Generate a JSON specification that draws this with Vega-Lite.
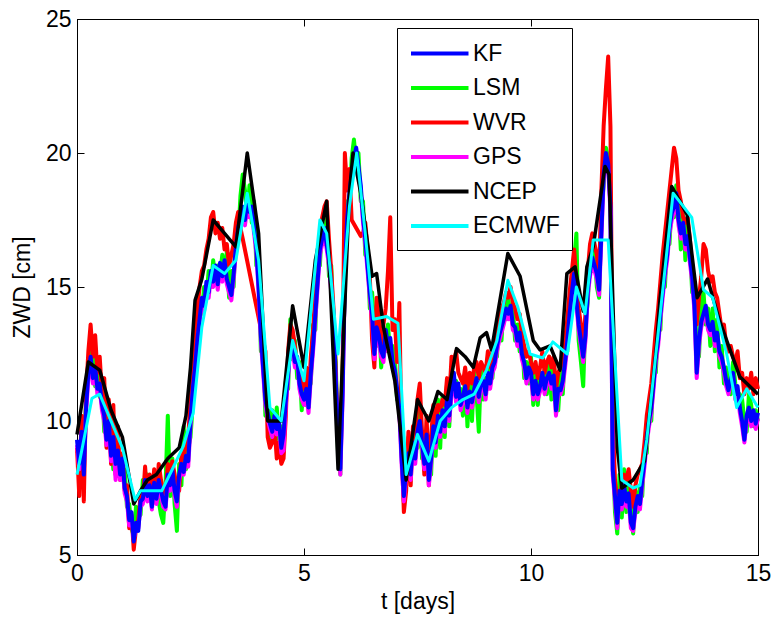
{
"$schema":"https://vega.github.io/schema/vega-lite/v6.json",
"width":681,"height":536,
"autosize":{"type":"none"},
"padding":{"left":77,"top":19,"right":15,"bottom":62},
"config":{
 "view":{"stroke":"black","strokeWidth":1},
 "font":"Liberation Sans",
 "axis":{"grid":false,"domainColor":"black","domainWidth":1,"tickColor":"black","tickWidth":1,"tickSize":-7,"labelFont":"Liberation Sans","labelFontSize":23,"labelColor":"black","labelFlush":false,"labelOverlap":false,"titleFont":"Liberation Sans","titleFontSize":23,"titleFontWeight":"normal","titleColor":"black"},
 "axisX":{"labelPadding":14,"titlePadding":5},
 "axisY":{"labelPadding":13,"titlePadding":11}
},
"datasets":{
"hf":[
{"t":0,"KF":9.3,"LSM":8.8,"WVR":9.0,"GPS":9.1},
{"t":0.05,"KF":8.4,"LSM":9.0,"WVR":7.2,"GPS":8.2},
{"t":0.1,"KF":9.6,"LSM":9.2,"WVR":10.2,"GPS":9.4},
{"t":0.15,"KF":8.0,"LSM":8.6,"WVR":7.0,"GPS":8.2},
{"t":0.2,"KF":10.5,"LSM":10.8,"WVR":11.0,"GPS":10.3},
{"t":0.25,"KF":11.8,"LSM":12.2,"WVR":12.6,"GPS":11.6},
{"t":0.3,"KF":12.4,"LSM":12.8,"WVR":13.6,"GPS":12.2},
{"t":0.35,"KF":11.6,"LSM":12.9,"WVR":12.4,"GPS":11.4},
{"t":0.4,"KF":12.0,"LSM":11.3,"WVR":13.2,"GPS":11.8},
{"t":0.45,"KF":11.2,"LSM":12.0,"WVR":11.8,"GPS":11.0},
{"t":0.5,"KF":11.4,"LSM":10.9,"WVR":12.4,"GPS":11.2},
{"t":0.55,"KF":10.6,"LSM":11.5,"WVR":11.0,"GPS":10.4},
{"t":0.6,"KF":10.2,"LSM":9.6,"WVR":11.6,"GPS":10.0},
{"t":0.65,"KF":9.3,"LSM":10.2,"WVR":9.0,"GPS":9.1},
{"t":0.7,"KF":10.0,"LSM":9.5,"WVR":10.8,"GPS":9.8},
{"t":0.75,"KF":8.7,"LSM":9.4,"WVR":8.4,"GPS":8.5},
{"t":0.8,"KF":9.4,"LSM":8.2,"WVR":10.6,"GPS":9.2},
{"t":0.85,"KF":8.4,"LSM":9.1,"WVR":8.0,"GPS":7.8},
{"t":0.9,"KF":8.9,"LSM":8.5,"WVR":9.8,"GPS":8.7},
{"t":0.95,"KF":8.0,"LSM":8.7,"WVR":7.8,"GPS":7.8},
{"t":1,"KF":8.6,"LSM":8.0,"WVR":8.8,"GPS":8.4},
{"t":1.05,"KF":7.5,"LSM":8.2,"WVR":7.4,"GPS":7.3},
{"t":1.1,"KF":7.2,"LSM":6.8,"WVR":7.6,"GPS":7.0},
{"t":1.15,"KF":6.3,"LSM":6.9,"WVR":6.0,"GPS":6.1},
{"t":1.2,"KF":6.6,"LSM":6.0,"WVR":6.5,"GPS":6.4},
{"t":1.25,"KF":5.5,"LSM":5.7,"WVR":5.2,"GPS":5.6},
{"t":1.3,"KF":6.2,"LSM":6.8,"WVR":6.0,"GPS":6.0},
{"t":1.35,"KF":5.9,"LSM":6.4,"WVR":6.3,"GPS":6.0},
{"t":1.4,"KF":7.0,"LSM":6.5,"WVR":7.2,"GPS":6.8},
{"t":1.45,"KF":7.1,"LSM":7.8,"WVR":7.0,"GPS":6.9},
{"t":1.5,"KF":7.8,"LSM":7.2,"WVR":8.3,"GPS":7.6},
{"t":1.55,"KF":7.2,"LSM":8.0,"WVR":7.1,"GPS":7.0},
{"t":1.6,"KF":7.6,"LSM":7.1,"WVR":8.0,"GPS":7.4},
{"t":1.65,"KF":6.8,"LSM":7.4,"WVR":7.2,"GPS":6.7},
{"t":1.7,"KF":7.7,"LSM":7.3,"WVR":8.2,"GPS":7.5},
{"t":1.75,"KF":7.1,"LSM":7.9,"WVR":7.0,"GPS":6.9},
{"t":1.8,"KF":7.8,"LSM":7.0,"WVR":8.4,"GPS":7.6},
{"t":1.85,"KF":7.4,"LSM":6.5,"WVR":7.8,"GPS":7.2},
{"t":1.9,"KF":7.0,"LSM":6.2,"WVR":7.4,"GPS":6.8},
{"t":1.95,"KF":6.8,"LSM":7.6,"WVR":7.2,"GPS":6.7},
{"t":2,"KF":8.0,"LSM":10.2,"WVR":8.4,"GPS":7.8},
{"t":2.05,"KF":7.6,"LSM":7.2,"WVR":8.0,"GPS":7.4},
{"t":2.1,"KF":8.2,"LSM":8.6,"WVR":8.5,"GPS":8.0},
{"t":2.15,"KF":7.4,"LSM":6.9,"WVR":8.0,"GPS":7.2},
{"t":2.2,"KF":7.0,"LSM":5.9,"WVR":7.5,"GPS":6.8},
{"t":2.25,"KF":8.0,"LSM":8.4,"WVR":7.4,"GPS":7.8},
{"t":2.3,"KF":8.4,"LSM":7.6,"WVR":8.8,"GPS":8.2},
{"t":2.35,"KF":8.1,"LSM":9.8,"WVR":8.6,"GPS":8.0},
{"t":2.4,"KF":8.7,"LSM":8.2,"WVR":9.2,"GPS":8.5},
{"t":2.45,"KF":8.5,"LSM":9.0,"WVR":9.4,"GPS":8.3},
{"t":2.5,"KF":10.0,"LSM":9.4,"WVR":10.8,"GPS":9.8},
{"t":2.55,"KF":11.2,"LSM":10.6,"WVR":12.4,"GPS":11.0},
{"t":2.6,"KF":12.0,"LSM":12.6,"WVR":13.4,"GPS":11.8},
{"t":2.65,"KF":13.0,"LSM":12.4,"WVR":14.2,"GPS":12.8},
{"t":2.7,"KF":13.8,"LSM":14.4,"WVR":15.0,"GPS":13.6},
{"t":2.75,"KF":14.6,"LSM":14.0,"WVR":15.6,"GPS":14.4},
{"t":2.8,"KF":14.3,"LSM":15.0,"WVR":15.8,"GPS":14.1},
{"t":2.85,"KF":15.2,"LSM":14.6,"WVR":16.4,"GPS":15.0},
{"t":2.9,"KF":14.8,"LSM":15.6,"WVR":16.8,"GPS":14.6},
{"t":2.95,"KF":15.6,"LSM":15.0,"WVR":17.6,"GPS":15.4},
{"t":3,"KF":15.2,"LSM":16.0,"WVR":17.8,"GPS":15.0},
{"t":3.05,"KF":15.8,"LSM":15.3,"WVR":17.0,"GPS":15.6},
{"t":3.1,"KF":15.1,"LSM":15.8,"WVR":17.4,"GPS":14.9},
{"t":3.15,"KF":15.9,"LSM":15.4,"WVR":16.8,"GPS":15.7},
{"t":3.2,"KF":15.4,"LSM":16.2,"WVR":17.2,"GPS":15.2},
{"t":3.25,"KF":16.0,"LSM":15.5,"WVR":16.4,"GPS":15.8},
{"t":3.3,"KF":15.3,"LSM":16.3,"WVR":16.6,"GPS":15.1},
{"t":3.35,"KF":15.0,"LSM":14.6,"WVR":15.8,"GPS":14.8},
{"t":3.4,"KF":14.7,"LSM":15.6,"WVR":16.2,"GPS":14.5},
{"t":3.45,"KF":15.5,"LSM":15.0,"WVR":16.6,"GPS":15.3},
{"t":3.5,"KF":16.5,"LSM":17.2,"WVR":17.4,"GPS":16.3},
{"t":3.55,"KF":17.2,"LSM":16.8,"WVR":17.8,"GPS":17.0},
{"t":3.6,"KF":17.6,"LSM":18.4,"WVR":17.2,"GPS":17.4},
{"t":3.65,"KF":18.0,"LSM":19.2,"WVR":16.8,"GPS":17.8},
{"t":3.7,"KF":17.5,"LSM":18.6,"GPS":17.3},
{"t":3.75,"KF":18.2,"LSM":17.6,"GPS":18.0},
{"t":3.8,"KF":17.8,"LSM":18.8,"GPS":17.6},
{"t":3.85,"KF":18.0,"LSM":17.4,"GPS":17.8},
{"t":3.9,"KF":17.2,"LSM":18.2,"GPS":17.0},
{"t":3.95,"KF":16.5,"LSM":15.8,"GPS":16.3},
{"t":4,"KF":15.0,"LSM":16.2,"GPS":14.8},
{"t":4.05,"KF":13.2,"LSM":12.6,"GPS":13.0},
{"t":4.1,"KF":12.0,"LSM":12.8,"GPS":11.8},
{"t":4.15,"KF":10.8,"LSM":10.2,"WVR":12.6,"GPS":10.6},
{"t":4.2,"KF":10.3,"LSM":10.9,"WVR":9.4,"GPS":10.1},
{"t":4.25,"KF":9.9,"LSM":9.2,"WVR":9.0,"GPS":9.7},
{"t":4.3,"KF":9.6,"LSM":10.4,"WVR":9.2,"GPS":9.4},
{"t":4.35,"KF":10.2,"LSM":9.6,"WVR":9.8,"GPS":10.0},
{"t":4.4,"KF":9.7,"LSM":10.5,"WVR":8.6,"GPS":9.5},
{"t":4.45,"KF":10.0,"LSM":9.3,"WVR":9.2,"GPS":9.8},
{"t":4.5,"KF":9.0,"LSM":9.8,"WVR":8.4,"GPS":8.8},
{"t":4.55,"KF":9.5,"LSM":9.0,"WVR":8.6,"GPS":8.9},
{"t":4.6,"KF":10.8,"LSM":11.5,"WVR":10.2,"GPS":10.6},
{"t":4.65,"KF":11.8,"LSM":11.2,"WVR":12.6,"GPS":11.6},
{"t":4.7,"KF":13.0,"LSM":13.8,"WVR":13.6,"GPS":12.8},
{"t":4.75,"KF":12.8,"LSM":12.3,"WVR":13.4,"GPS":12.6},
{"t":4.8,"KF":12.2,"LSM":13.0,"WVR":12.8,"GPS":12.0},
{"t":4.85,"KF":12.4,"LSM":11.6,"WVR":12.0,"GPS":12.2},
{"t":4.9,"KF":11.4,"LSM":12.2,"WVR":11.8,"GPS":11.2},
{"t":4.95,"KF":11.0,"LSM":10.4,"WVR":11.6,"GPS":10.8},
{"t":5,"KF":10.8,"LSM":11.6,"WVR":11.2,"GPS":10.6},
{"t":5.05,"KF":11.2,"LSM":10.6,"WVR":12.0,"GPS":11.0},
{"t":5.1,"KF":10.5,"LSM":11.2,"WVR":10.8,"GPS":10.3},
{"t":5.15,"KF":11.8,"LSM":11.4,"WVR":12.4,"GPS":11.6},
{"t":5.2,"KF":12.8,"LSM":13.6,"WVR":13.4,"GPS":12.6},
{"t":5.25,"KF":14.0,"LSM":13.4,"WVR":14.8,"GPS":13.8},
{"t":5.3,"KF":15.2,"LSM":16.0,"WVR":15.8,"GPS":15.0},
{"t":5.35,"KF":16.4,"LSM":15.8,"WVR":17.0,"GPS":16.2},
{"t":5.4,"KF":16.8,"LSM":17.4,"WVR":17.6,"GPS":16.6},
{"t":5.45,"KF":17.2,"LSM":16.6,"WVR":18.0,"GPS":17.0},
{"t":5.5,"KF":16.6,"LSM":17.6,"WVR":18.2,"GPS":16.4},
{"t":5.55,"KF":16.0,"LSM":15.4,"WVR":16.8,"GPS":15.8},
{"t":5.6,"KF":15.0,"LSM":15.8,"WVR":15.6,"GPS":14.8},
{"t":5.65,"KF":14.0,"LSM":13.2,"WVR":14.2,"GPS":13.8},
{"t":5.7,"KF":11.5,"LSM":12.2,"WVR":11.8,"GPS":11.3},
{"t":5.75,"KF":9.5,"LSM":8.8,"WVR":9.4,"GPS":9.3},
{"t":5.8,"KF":8.2,"LSM":8.0,"WVR":8.6,"GPS":8.0},
{"t":5.85,"KF":11.0,"LSM":12.0,"WVR":11.8,"GPS":10.8},
{"t":5.9,"KF":15.5,"LSM":15.0,"WVR":20.0,"GPS":15.3},
{"t":5.95,"KF":17.5,"LSM":18.2,"WVR":18.6,"GPS":17.3},
{"t":6,"KF":18.5,"LSM":18.0,"WVR":19.4,"GPS":18.3},
{"t":6.05,"KF":19.2,"LSM":19.8,"WVR":17.5,"GPS":19.0},
{"t":6.1,"KF":19.8,"LSM":20.5,"GPS":19.6},
{"t":6.15,"KF":20.2,"LSM":19.6,"GPS":20.0},
{"t":6.2,"KF":19.5,"LSM":20.0,"GPS":19.3},
{"t":6.25,"KF":18.8,"LSM":18.2,"WVR":16.9,"GPS":18.6},
{"t":6.3,"KF":17.6,"LSM":18.2,"WVR":17.0,"GPS":17.4},
{"t":6.35,"KF":16.8,"LSM":16.2,"WVR":17.4,"GPS":16.6},
{"t":6.4,"KF":15.8,"LSM":16.4,"WVR":16.4,"GPS":15.6},
{"t":6.45,"KF":14.8,"LSM":14.2,"WVR":15.4,"GPS":14.6},
{"t":6.5,"KF":14.0,"LSM":14.8,"WVR":13.0,"GPS":13.8},
{"t":6.55,"KF":12.5,"LSM":13.4,"WVR":12.0,"GPS":12.3},
{"t":6.6,"KF":13.5,"LSM":12.8,"WVR":14.6,"GPS":13.3},
{"t":6.65,"KF":13.2,"LSM":13.9,"WVR":13.8,"GPS":13.0},
{"t":6.7,"KF":12.6,"LSM":12.0,"WVR":12.4,"GPS":12.4},
{"t":6.75,"KF":12.4,"LSM":13.0,"WVR":13.6,"GPS":12.2},
{"t":6.8,"KF":13.4,"LSM":12.6,"WVR":14.2,"GPS":13.2},
{"t":6.85,"KF":12.8,"LSM":13.6,"WVR":15.6,"GPS":12.6},
{"t":6.9,"KF":13.1,"LSM":12.4,"WVR":17.6,"GPS":12.9},
{"t":6.95,"KF":12.2,"LSM":12.8,"WVR":13.4,"GPS":12.0},
{"t":7,"KF":11.9,"LSM":12.4,"WVR":13.8,"GPS":11.7},
{"t":7.05,"KF":11.2,"LSM":10.8,"WVR":12.2,"GPS":11.0},
{"t":7.1,"KF":10.5,"LSM":11.2,"WVR":14.4,"GPS":10.3},
{"t":7.15,"KF":8.6,"LSM":9.4,"WVR":9.0,"GPS":8.4},
{"t":7.2,"KF":7.2,"LSM":7.0,"WVR":6.6,"GPS":7.0},
{"t":7.25,"KF":8.2,"LSM":7.6,"WVR":7.4,"GPS":8.0},
{"t":7.3,"KF":8.8,"LSM":9.4,"WVR":9.6,"GPS":8.6},
{"t":7.35,"KF":8.0,"LSM":8.5,"WVR":7.6,"GPS":7.8},
{"t":7.4,"KF":9.2,"LSM":8.6,"WVR":9.8,"GPS":9.0},
{"t":7.45,"KF":8.6,"LSM":9.4,"WVR":9.2,"GPS":8.4},
{"t":7.5,"KF":9.6,"LSM":9.0,"WVR":10.8,"GPS":9.4},
{"t":7.55,"KF":10.0,"LSM":10.6,"WVR":11.4,"GPS":9.8},
{"t":7.6,"KF":9.2,"LSM":8.6,"WVR":9.6,"GPS":9.0},
{"t":7.65,"KF":8.4,"LSM":9.2,"WVR":8.0,"GPS":8.2},
{"t":7.7,"KF":9.5,"LSM":8.8,"WVR":10.2,"GPS":9.3},
{"t":7.75,"KF":7.8,"LSM":8.4,"WVR":7.6,"GPS":7.6},
{"t":7.8,"KF":8.6,"LSM":8.0,"WVR":9.4,"GPS":8.4},
{"t":7.85,"KF":9.8,"LSM":10.4,"WVR":10.6,"GPS":9.6},
{"t":7.9,"KF":9.2,"LSM":8.7,"WVR":9.8,"GPS":9.0},
{"t":7.95,"KF":10.2,"LSM":10.8,"WVR":10.6,"GPS":10.0},
{"t":8,"KF":9.6,"LSM":9.0,"WVR":10.4,"GPS":9.4},
{"t":8.05,"KF":10.4,"LSM":10.9,"WVR":10.8,"GPS":10.2},
{"t":8.1,"KF":9.8,"LSM":9.4,"WVR":10.6,"GPS":9.6},
{"t":8.15,"KF":10.8,"LSM":11.4,"WVR":11.6,"GPS":10.6},
{"t":8.2,"KF":10.2,"LSM":9.8,"WVR":10.8,"GPS":10.0},
{"t":8.25,"KF":11.2,"LSM":11.6,"WVR":12.4,"GPS":11.0},
{"t":8.3,"KF":11.8,"LSM":11.2,"WVR":12.2,"GPS":11.6},
{"t":8.35,"KF":10.9,"LSM":11.5,"WVR":12.6,"GPS":10.7},
{"t":8.4,"KF":11.4,"LSM":10.8,"WVR":11.8,"GPS":11.2},
{"t":8.45,"KF":10.6,"LSM":11.2,"WVR":11.6,"GPS":10.4},
{"t":8.5,"KF":10.9,"LSM":10.2,"WVR":11.4,"GPS":10.7},
{"t":8.55,"KF":11.3,"LSM":11.8,"WVR":12.0,"GPS":11.1},
{"t":8.6,"KF":10.5,"LSM":9.8,"WVR":11.2,"GPS":10.3},
{"t":8.65,"KF":11.1,"LSM":11.6,"WVR":11.8,"GPS":10.9},
{"t":8.7,"KF":10.7,"LSM":10.0,"WVR":11.4,"GPS":10.5},
{"t":8.75,"KF":11.2,"LSM":11.8,"WVR":12.0,"GPS":11.0},
{"t":8.8,"KF":11.6,"LSM":11.0,"WVR":12.2,"GPS":11.4},
{"t":8.85,"KF":10.9,"LSM":9.6,"WVR":11.6,"GPS":10.7},
{"t":8.9,"KF":11.5,"LSM":12.0,"WVR":12.2,"GPS":11.3},
{"t":8.95,"KF":11.5,"LSM":10.8,"WVR":12.0,"GPS":11.3},
{"t":9,"KF":11.0,"LSM":11.6,"WVR":11.8,"GPS":10.8},
{"t":9.05,"KF":11.8,"LSM":11.2,"WVR":12.6,"GPS":11.6},
{"t":9.1,"KF":11.4,"LSM":12.0,"WVR":12.0,"GPS":11.2},
{"t":9.15,"KF":12.0,"LSM":11.6,"WVR":12.6,"GPS":11.8},
{"t":9.2,"KF":12.2,"LSM":12.8,"WVR":12.8,"GPS":12.0},
{"t":9.25,"KF":12.8,"LSM":12.4,"WVR":13.6,"GPS":12.6},
{"t":9.3,"KF":13.2,"LSM":13.8,"WVR":13.8,"GPS":13.0},
{"t":9.35,"KF":13.5,"LSM":13.0,"WVR":14.2,"GPS":13.3},
{"t":9.4,"KF":13.8,"LSM":14.4,"WVR":14.4,"GPS":13.6},
{"t":9.45,"KF":14.2,"LSM":13.8,"WVR":14.8,"GPS":14.0},
{"t":9.5,"KF":14.0,"LSM":14.6,"WVR":14.6,"GPS":13.8},
{"t":9.55,"KF":14.3,"LSM":13.8,"WVR":15.0,"GPS":14.1},
{"t":9.6,"KF":13.6,"LSM":14.2,"WVR":14.4,"GPS":13.4},
{"t":9.65,"KF":13.5,"LSM":13.0,"WVR":14.2,"GPS":13.3},
{"t":9.7,"KF":13.0,"LSM":13.6,"WVR":13.8,"GPS":12.8},
{"t":9.75,"KF":13.3,"LSM":12.6,"WVR":14.0,"GPS":13.1},
{"t":9.8,"KF":12.5,"LSM":13.4,"WVR":13.2,"GPS":12.3},
{"t":9.85,"KF":12.2,"LSM":11.6,"WVR":12.8,"GPS":12.0},
{"t":9.9,"KF":11.6,"LSM":12.2,"WVR":12.4,"GPS":11.4},
{"t":9.95,"KF":12.0,"LSM":11.4,"WVR":12.6,"GPS":11.8},
{"t":10,"KF":11.8,"LSM":12.4,"WVR":12.2,"GPS":11.6},
{"t":10.05,"KF":11.0,"LSM":10.6,"WVR":11.8,"GPS":10.8},
{"t":10.1,"KF":11.5,"LSM":12.0,"WVR":12.2,"GPS":11.3},
{"t":10.15,"KF":11.0,"LSM":10.6,"WVR":11.6,"GPS":10.8},
{"t":10.2,"KF":11.3,"LSM":11.8,"WVR":12.0,"GPS":11.1},
{"t":10.25,"KF":11.8,"LSM":11.2,"WVR":12.6,"GPS":11.6},
{"t":10.3,"KF":11.2,"LSM":11.9,"WVR":11.8,"GPS":11.0},
{"t":10.35,"KF":11.6,"LSM":11.0,"WVR":12.2,"GPS":11.4},
{"t":10.4,"KF":11.8,"LSM":12.4,"WVR":12.4,"GPS":11.6},
{"t":10.45,"KF":11.4,"LSM":10.8,"WVR":12.0,"GPS":11.2},
{"t":10.5,"KF":11.7,"LSM":12.2,"WVR":12.4,"GPS":11.5},
{"t":10.55,"KF":10.4,"LSM":11.0,"WVR":11.2,"GPS":10.2},
{"t":10.6,"KF":11.2,"LSM":10.4,"WVR":11.8,"GPS":11.0},
{"t":10.65,"KF":11.15,"LSM":11.8,"WVR":12.0,"GPS":11.0},
{"t":10.7,"KF":11.5,"LSM":11.0,"WVR":12.2,"GPS":11.3},
{"t":10.75,"KF":12.2,"LSM":12.8,"WVR":13.0,"GPS":12.0},
{"t":10.8,"KF":13.0,"LSM":12.6,"WVR":13.8,"GPS":12.8},
{"t":10.85,"KF":14.0,"LSM":14.6,"WVR":14.8,"GPS":13.8},
{"t":10.9,"KF":14.8,"LSM":14.2,"WVR":15.6,"GPS":14.6},
{"t":10.95,"KF":15.5,"LSM":16.0,"WVR":16.4,"GPS":15.3},
{"t":11,"KF":14.5,"LSM":17.0,"WVR":15.2,"GPS":14.3},
{"t":11.05,"KF":13.6,"LSM":13.0,"WVR":14.2,"GPS":13.4},
{"t":11.1,"KF":13.0,"LSM":12.2,"WVR":13.6,"GPS":12.8},
{"t":11.15,"KF":12.4,"LSM":11.3,"WVR":12.8,"GPS":12.2},
{"t":11.2,"KF":13.2,"LSM":13.8,"WVR":14.0,"GPS":13.0},
{"t":11.25,"KF":14.9,"LSM":14.4,"WVR":15.6,"GPS":14.7},
{"t":11.3,"KF":15.6,"LSM":16.2,"WVR":16.6,"GPS":15.4},
{"t":11.35,"KF":16.1,"LSM":15.6,"WVR":17.0,"GPS":15.9},
{"t":11.4,"KF":15.8,"LSM":16.4,"WVR":16.6,"GPS":15.6},
{"t":11.45,"KF":15.5,"LSM":15.0,"WVR":16.2,"GPS":15.3},
{"t":11.5,"KF":14.9,"LSM":14.6,"WVR":15.4,"GPS":14.7},
{"t":11.55,"KF":17.0,"LSM":17.8,"WVR":18.6,"GPS":16.8},
{"t":11.6,"KF":19.2,"LSM":18.8,"WVR":21.0,"GPS":19.0},
{"t":11.65,"KF":20.0,"LSM":20.2,"WVR":22.4,"GPS":19.8},
{"t":11.7,"KF":19.6,"LSM":19.8,"WVR":23.6,"GPS":19.4},
{"t":11.75,"KF":18.0,"LSM":18.4,"WVR":21.0,"GPS":17.8},
{"t":11.8,"KF":8.2,"LSM":9.0,"WVR":10.0,"GPS":8.0},
{"t":11.85,"KF":7.2,"LSM":6.6,"WVR":7.8,"GPS":7.0},
{"t":11.9,"KF":6.2,"LSM":5.8,"WVR":7.0,"GPS":6.0},
{"t":11.95,"KF":7.4,"LSM":8.0,"WVR":7.2,"GPS":7.2},
{"t":12,"KF":6.9,"LSM":6.4,"WVR":7.6,"GPS":6.7},
{"t":12.05,"KF":7.6,"LSM":8.2,"WVR":8.0,"GPS":7.4},
{"t":12.1,"KF":7.0,"LSM":6.6,"WVR":7.8,"GPS":6.8},
{"t":12.15,"KF":7.3,"LSM":7.9,"WVR":8.2,"GPS":7.1},
{"t":12.2,"KF":6.2,"LSM":6.6,"WVR":7.4,"GPS":6.0},
{"t":12.25,"KF":6.0,"LSM":5.8,"WVR":6.8,"GPS":5.9},
{"t":12.3,"KF":6.8,"LSM":7.4,"WVR":7.6,"GPS":6.6},
{"t":12.35,"KF":7.2,"LSM":6.6,"WVR":8.0,"GPS":7.0},
{"t":12.4,"KF":6.9,"LSM":7.6,"WVR":8.2,"GPS":6.7},
{"t":12.45,"KF":7.8,"LSM":7.2,"WVR":8.4,"GPS":7.6},
{"t":12.5,"KF":8.5,"LSM":9.0,"WVR":9.2,"GPS":8.3},
{"t":12.55,"KF":9.4,"LSM":8.8,"WVR":10.2,"GPS":9.2},
{"t":12.6,"KF":10.0,"LSM":10.6,"WVR":10.8,"GPS":9.8},
{"t":12.65,"KF":10.5,"LSM":10.0,"WVR":11.4,"GPS":10.3},
{"t":12.7,"KF":11.4,"LSM":12.0,"WVR":12.4,"GPS":11.2},
{"t":12.75,"KF":12.4,"LSM":11.8,"WVR":13.4,"GPS":12.2},
{"t":12.8,"KF":13.0,"LSM":13.6,"WVR":14.2,"GPS":12.8},
{"t":12.85,"KF":14.0,"LSM":13.4,"WVR":15.2,"GPS":13.8},
{"t":12.9,"KF":14.8,"LSM":15.4,"WVR":16.2,"GPS":14.6},
{"t":12.95,"KF":15.6,"LSM":15.0,"WVR":17.0,"GPS":15.4},
{"t":13,"KF":16.2,"LSM":16.8,"WVR":17.8,"GPS":16.0},
{"t":13.05,"KF":17.2,"LSM":16.6,"WVR":18.6,"GPS":17.0},
{"t":13.1,"KF":17.75,"LSM":18.2,"WVR":19.4,"GPS":17.5},
{"t":13.15,"KF":18.0,"LSM":17.6,"WVR":20.2,"GPS":17.8},
{"t":13.2,"KF":18.5,"LSM":18.8,"WVR":19.8,"GPS":18.3},
{"t":13.25,"KF":17.5,"LSM":18.0,"WVR":18.6,"GPS":17.3},
{"t":13.3,"KF":17.0,"LSM":16.4,"WVR":18.2,"GPS":16.8},
{"t":13.35,"KF":17.4,"LSM":17.8,"WVR":17.6,"GPS":17.2},
{"t":13.4,"KF":16.6,"LSM":16.0,"WVR":17.4,"GPS":16.4},
{"t":13.45,"KF":16.9,"LSM":17.4,"WVR":17.6,"GPS":16.7},
{"t":13.5,"KF":16.1,"LSM":16.6,"WVR":16.8,"GPS":15.9},
{"t":13.55,"KF":15.4,"LSM":14.8,"WVR":15.6,"GPS":15.2},
{"t":13.6,"KF":14.3,"LSM":14.8,"WVR":15.0,"GPS":14.1},
{"t":13.65,"KF":11.8,"LSM":12.6,"WVR":13.6,"GPS":11.6},
{"t":13.7,"KF":13.0,"LSM":12.4,"WVR":14.6,"GPS":12.8},
{"t":13.75,"KF":13.7,"LSM":14.4,"WVR":15.4,"GPS":13.5},
{"t":13.8,"KF":14.0,"LSM":14.8,"WVR":16.6,"GPS":13.8},
{"t":13.85,"KF":14.3,"LSM":13.6,"WVR":16.4,"GPS":14.1},
{"t":13.9,"KF":13.6,"LSM":14.2,"WVR":15.6,"GPS":13.4},
{"t":13.95,"KF":13.4,"LSM":12.8,"WVR":15.2,"GPS":13.2},
{"t":14,"KF":13.7,"LSM":14.2,"WVR":15.4,"GPS":13.5},
{"t":14.05,"KF":13.0,"LSM":12.6,"WVR":14.8,"GPS":12.8},
{"t":14.1,"KF":13.3,"LSM":13.8,"WVR":14.6,"GPS":13.1},
{"t":14.15,"KF":12.6,"LSM":12.0,"WVR":14.0,"GPS":12.4},
{"t":14.2,"KF":12.4,"LSM":12.8,"WVR":13.4,"GPS":12.2},
{"t":14.25,"KF":12.0,"LSM":11.4,"WVR":13.6,"GPS":11.8},
{"t":14.3,"KF":11.5,"LSM":12.0,"WVR":12.8,"GPS":11.3},
{"t":14.35,"KF":11.15,"LSM":11.6,"WVR":12.6,"GPS":11.0},
{"t":14.4,"KF":11.6,"LSM":11.0,"WVR":12.8,"GPS":11.4},
{"t":14.45,"KF":11.8,"LSM":12.2,"WVR":12.4,"GPS":11.6},
{"t":14.5,"KF":11.0,"LSM":11.4,"WVR":12.2,"GPS":10.8},
{"t":14.55,"KF":11.3,"LSM":10.8,"WVR":12.6,"GPS":11.1},
{"t":14.6,"KF":10.5,"LSM":11.0,"WVR":11.6,"GPS":10.3},
{"t":14.65,"KF":10.0,"LSM":10.8,"WVR":11.8,"GPS":9.8},
{"t":14.7,"KF":9.3,"LSM":10.0,"WVR":11.0,"GPS":9.2},
{"t":14.75,"KF":10.2,"LSM":9.6,"WVR":11.6,"GPS":10.0},
{"t":14.8,"KF":10.5,"LSM":11.0,"WVR":11.2,"GPS":10.3},
{"t":14.85,"KF":10.0,"LSM":10.6,"WVR":11.8,"GPS":9.8},
{"t":14.9,"KF":10.4,"LSM":9.8,"WVR":11.0,"GPS":10.2},
{"t":14.95,"KF":9.9,"LSM":10.4,"WVR":11.6,"GPS":9.7},
{"t":15,"KF":10.3,"LSM":10.0,"WVR":11.2,"GPS":10.1}
],
"model":[
{"s":"NCEP","t":0,"v":9.5},{"s":"NCEP","t":0.25,"v":12.2},{"s":"NCEP","t":0.5,"v":11.9},{"s":"NCEP","t":0.75,"v":10.4},{"s":"NCEP","t":0.9,"v":9.8},{"s":"NCEP","t":1.0,"v":9.4},{"s":"NCEP","t":1.25,"v":6.9},{"s":"NCEP","t":1.4,"v":7.4},{"s":"NCEP","t":1.55,"v":7.8},{"s":"NCEP","t":1.75,"v":8.0},{"s":"NCEP","t":2.0,"v":8.6},{"s":"NCEP","t":2.25,"v":9.0},{"s":"NCEP","t":2.4,"v":10.2},{"s":"NCEP","t":2.5,"v":12.0},{"s":"NCEP","t":2.6,"v":14.5},{"s":"NCEP","t":2.75,"v":15.3},{"s":"NCEP","t":3.0,"v":17.5},{"s":"NCEP","t":3.25,"v":17.0},{"s":"NCEP","t":3.5,"v":16.5},{"s":"NCEP","t":3.75,"v":20.0},{"s":"NCEP","t":4.0,"v":17.0},{"s":"NCEP","t":4.2,"v":10.0},{"s":"NCEP","t":4.5,"v":10.0},{"s":"NCEP","t":4.75,"v":14.3},{"s":"NCEP","t":5.0,"v":12.0},{"s":"NCEP","t":5.25,"v":16.0},{"s":"NCEP","t":5.5,"v":18.2},{"s":"NCEP","t":5.75,"v":8.2},{"s":"NCEP","t":6.0,"v":18.5},{"s":"NCEP","t":6.08,"v":20.0},{"s":"NCEP","t":6.25,"v":18.5},{"s":"NCEP","t":6.5,"v":15.4},{"s":"NCEP","t":6.6,"v":15.5},{"s":"NCEP","t":6.75,"v":13.5},{"s":"NCEP","t":7.0,"v":11.5},{"s":"NCEP","t":7.25,"v":7.8},{"s":"NCEP","t":7.5,"v":10.8},{"s":"NCEP","t":7.75,"v":10.0},{"s":"NCEP","t":7.95,"v":11.1},{"s":"NCEP","t":8.15,"v":10.8},{"s":"NCEP","t":8.36,"v":12.7},{"s":"NCEP","t":8.55,"v":12.4},{"s":"NCEP","t":8.73,"v":12.0},{"s":"NCEP","t":8.88,"v":13.1},{"s":"NCEP","t":9.02,"v":13.3},{"s":"NCEP","t":9.13,"v":12.65},{"s":"NCEP","t":9.49,"v":16.25},{"s":"NCEP","t":9.76,"v":15.4},{"s":"NCEP","t":10.05,"v":13.0},{"s":"NCEP","t":10.2,"v":12.65},{"s":"NCEP","t":10.42,"v":12.8},{"s":"NCEP","t":10.64,"v":11.9},{"s":"NCEP","t":10.79,"v":15.5},{"s":"NCEP","t":10.97,"v":15.75},{"s":"NCEP","t":11.15,"v":14.1},{"s":"NCEP","t":11.23,"v":15.75},{"s":"NCEP","t":11.37,"v":16.5},{"s":"NCEP","t":11.63,"v":19.5},{"s":"NCEP","t":11.72,"v":19.2},{"s":"NCEP","t":11.9,"v":9.0},{"s":"NCEP","t":12.0,"v":7.5},{"s":"NCEP","t":12.25,"v":7.8},{"s":"NCEP","t":12.5,"v":8.5},{"s":"NCEP","t":12.75,"v":12.5},{"s":"NCEP","t":12.84,"v":14.5},{"s":"NCEP","t":13.1,"v":18.75},{"s":"NCEP","t":13.44,"v":17.7},{"s":"NCEP","t":13.66,"v":14.6},{"s":"NCEP","t":13.89,"v":15.3},{"s":"NCEP","t":14.14,"v":13.8},{"s":"NCEP","t":14.6,"v":11.65},{"s":"NCEP","t":15.0,"v":11.0},
{"s":"ECMWF","t":0,"v":8.0},{"s":"ECMWF","t":0.33,"v":10.85},{"s":"ECMWF","t":0.5,"v":11.0},{"s":"ECMWF","t":0.8,"v":9.8},{"s":"ECMWF","t":1.0,"v":9.0},{"s":"ECMWF","t":1.28,"v":7.05},{"s":"ECMWF","t":1.4,"v":7.4},{"s":"ECMWF","t":1.87,"v":7.4},{"s":"ECMWF","t":2.1,"v":8.2},{"s":"ECMWF","t":2.34,"v":9.05},{"s":"ECMWF","t":2.56,"v":10.3},{"s":"ECMWF","t":2.75,"v":13.5},{"s":"ECMWF","t":3.0,"v":15.8},{"s":"ECMWF","t":3.25,"v":15.5},{"s":"ECMWF","t":3.5,"v":16.0},{"s":"ECMWF","t":3.75,"v":18.5},{"s":"ECMWF","t":4.0,"v":16.0},{"s":"ECMWF","t":4.25,"v":10.5},{"s":"ECMWF","t":4.5,"v":10.0},{"s":"ECMWF","t":4.75,"v":13.0},{"s":"ECMWF","t":5.0,"v":11.5},{"s":"ECMWF","t":5.35,"v":17.5},{"s":"ECMWF","t":5.5,"v":17.0},{"s":"ECMWF","t":5.75,"v":12.5},{"s":"ECMWF","t":6.0,"v":18.0},{"s":"ECMWF","t":6.16,"v":20.0},{"s":"ECMWF","t":6.35,"v":17.0},{"s":"ECMWF","t":6.53,"v":13.8},{"s":"ECMWF","t":6.82,"v":13.9},{"s":"ECMWF","t":7.07,"v":13.65},{"s":"ECMWF","t":7.25,"v":8.0},{"s":"ECMWF","t":7.5,"v":9.5},{"s":"ECMWF","t":7.75,"v":8.5},{"s":"ECMWF","t":8.0,"v":10.0},{"s":"ECMWF","t":8.25,"v":10.5},{"s":"ECMWF","t":8.5,"v":10.8},{"s":"ECMWF","t":8.75,"v":11.0},{"s":"ECMWF","t":9.02,"v":11.9},{"s":"ECMWF","t":9.25,"v":13.0},{"s":"ECMWF","t":9.49,"v":15.25},{"s":"ECMWF","t":9.71,"v":14.25},{"s":"ECMWF","t":9.98,"v":12.5},{"s":"ECMWF","t":10.26,"v":12.35},{"s":"ECMWF","t":10.48,"v":12.95},{"s":"ECMWF","t":10.8,"v":12.5},{"s":"ECMWF","t":11.0,"v":15.0},{"s":"ECMWF","t":11.19,"v":14.0},{"s":"ECMWF","t":11.37,"v":16.75},{"s":"ECMWF","t":11.7,"v":16.75},{"s":"ECMWF","t":12.0,"v":7.8},{"s":"ECMWF","t":12.25,"v":7.5},{"s":"ECMWF","t":12.4,"v":7.6},{"s":"ECMWF","t":12.55,"v":9.3},{"s":"ECMWF","t":12.77,"v":12.8},{"s":"ECMWF","t":13.13,"v":18.5},{"s":"ECMWF","t":13.54,"v":17.6},{"s":"ECMWF","t":13.8,"v":14.9},{"s":"ECMWF","t":14.0,"v":14.6},{"s":"ECMWF","t":14.31,"v":12.5},{"s":"ECMWF","t":14.53,"v":10.5},{"s":"ECMWF","t":14.75,"v":11.2},{"s":"ECMWF","t":15.0,"v":10.5}
]
},
"resolve":{"axis":{"x":"independent","y":"independent"}},
"layer":[
{"data":{"name":"hf"},"transform":[{"fold":["LSM"],"as":["s","v"]}],
 "mark":{"type":"line","strokeWidth":4,"strokeJoin":"round"},
 "encoding":{
  "x":{"field":"t","type":"quantitative","scale":{"domain":[0,15],"nice":false,"zero":false},"axis":{"orient":"bottom","values":[0,5,10,15],"title":"t [days]"}},
  "y":{"field":"v","type":"quantitative","scale":{"domain":[5,25],"nice":false,"zero":false},"axis":{"orient":"left","values":[5,10,15,20,25],"title":"ZWD [cm]"}},
  "color":{"field":"s","type":"nominal","scale":{"domain":["KF","LSM","WVR","GPS","NCEP","ECMWF"],"range":["#0000ff","#00ff00","#ff0000","#ff00ff","#000000","#00ffff"]},
   "legend":{"orient":"none","legendX":320,"legendY":9,"title":null,"symbolType":"M-1,0H4","symbolSize":529,"symbolStrokeWidth":4,"labelFont":"Liberation Sans","labelFontSize":23,"labelColor":"black","strokeColor":"black","fillColor":"white","padding":12,"rowPadding":8.5,"labelOffset":37}}
 }},
{"data":{"name":"hf"},"transform":[{"filter":"isValid(datum.WVR)"},{"fold":["WVR"],"as":["s","v"]}],
 "mark":{"type":"line","strokeWidth":4,"strokeJoin":"round"},
 "encoding":{
  "x":{"field":"t","type":"quantitative","axis":null},
  "y":{"field":"v","type":"quantitative","axis":null},
  "color":{"field":"s","type":"nominal"}
 }},
{"data":{"name":"hf"},"transform":[{"fold":["GPS"],"as":["s","v"]}],
 "mark":{"type":"line","strokeWidth":4,"strokeJoin":"round"},
 "encoding":{
  "x":{"field":"t","type":"quantitative","axis":null},
  "y":{"field":"v","type":"quantitative","axis":null},
  "color":{"field":"s","type":"nominal"}
 }},
{"data":{"name":"hf"},"transform":[{"fold":["KF"],"as":["s","v"]}],
 "mark":{"type":"line","strokeWidth":4,"strokeJoin":"round"},
 "encoding":{
  "x":{"field":"t","type":"quantitative","axis":null},
  "y":{"field":"v","type":"quantitative","axis":null},
  "color":{"field":"s","type":"nominal"}
 }},
{"data":{"name":"model"},"transform":[{"filter":"datum.s == 'NCEP'"}],
 "mark":{"type":"line","strokeWidth":3.5,"strokeJoin":"round"},
 "encoding":{
  "x":{"field":"t","type":"quantitative","axis":null},
  "y":{"field":"v","type":"quantitative","axis":null},
  "color":{"field":"s","type":"nominal"}
 }},
{"data":{"name":"model"},"transform":[{"filter":"datum.s == 'ECMWF'"}],
 "mark":{"type":"line","strokeWidth":3,"strokeJoin":"round"},
 "encoding":{
  "x":{"field":"t","type":"quantitative","axis":{"orient":"top","values":[0,5,10,15],"labels":false,"title":null}},
  "y":{"field":"v","type":"quantitative","axis":{"orient":"right","values":[5,10,15,20,25],"labels":false,"title":null}},
  "color":{"field":"s","type":"nominal"}
 }}
]
}
